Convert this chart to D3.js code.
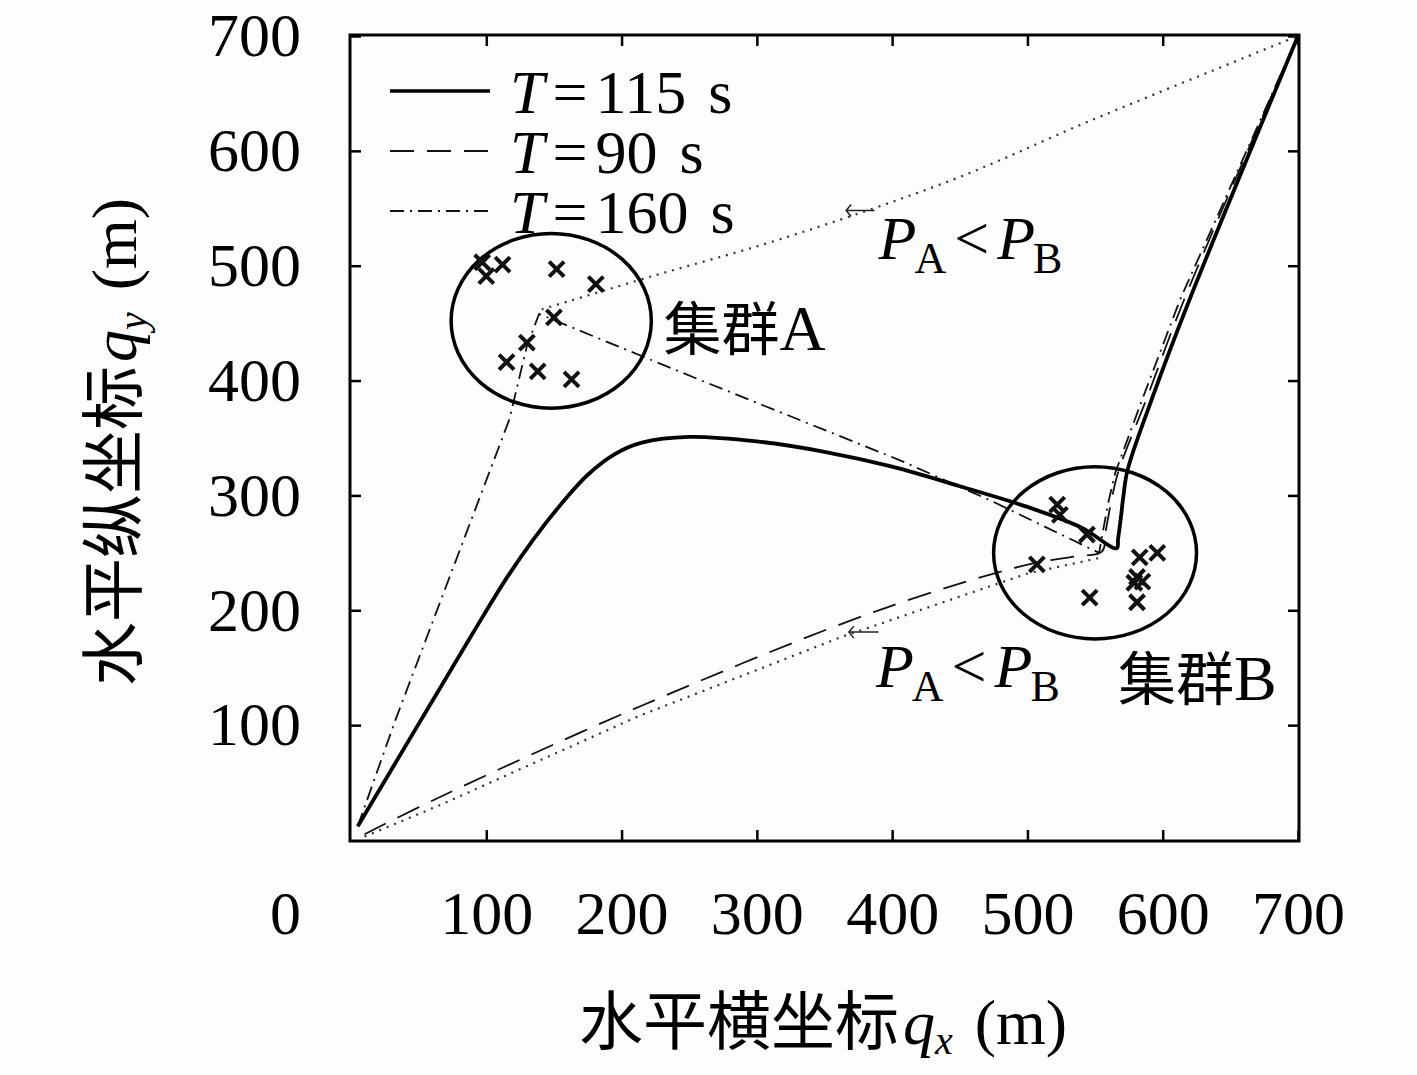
<!DOCTYPE html>
<html>
<head>
<meta charset="utf-8">
<script src="https://cdn.jsdelivr.net/npm/d3@7"></script>
<style>
body { margin: 0; background: #fff; }
</style>
</head>
<body>
<div id="chart"></div>
<script>
var xTicks = [100, 200, 300, 400, 500, 600, 700],
	yTicks = [100, 200, 300, 400, 500, 600, 700];

var legendValues = ["115", "90", "160"];

// T=115 s (solid)
var t115X = [5, 52, 90, 115, 135, 155, 175, 195, 215, 250, 300, 350, 400, 450, 500, 540, 566, 567, 569, 571, 574, 592, 620, 700];
var t115Y = [12, 105, 180, 228, 262, 292, 318, 336, 346, 351, 347, 338, 325, 308, 290, 272, 254, 262, 280, 300, 322, 384, 471, 700];

// T=90 s (dashed)
var t90X = [10, 65, 213, 390, 501, 536, 555, 558, 562, 567, 588, 616, 700];
var t90Y = [5, 37, 116, 200, 240, 247, 251, 270, 295, 320, 384, 471, 700];

// T=160 s (dash-dot)
var t160X = [5, 33, 117, 130, 139, 257, 405, 472, 553, 556, 560, 565, 585, 613, 700];
var t160Y = [12, 105, 366, 430, 458, 401, 331, 296, 250, 270, 295, 320, 384, 471, 700];

// dotted routes, P_A < P_B
var lowX = [10, 65, 213, 363, 500, 555];
var lowY = [3, 30, 108, 177, 232, 246];
var highX = [141, 223, 317, 445, 546, 700];
var highY = [462, 491, 523, 575, 626, 700];

// users of cluster A and B
var crossAX = [97, 112, 100, 152, 181, 150, 130, 115, 138, 163];
var crossAY = [503, 501, 491, 497, 484, 455, 433, 416, 408, 401];
var crossBX = [522, 524, 544, 507, 546, 596, 583, 581, 585, 579, 581];
var crossBY = [292, 283, 266, 240, 211, 250, 246, 229, 225, 224, 207];

// cluster circles
var clusterNames = ["A", "B"],
	clusterCx = [148, 550],
	clusterCy = [452, 250],
	clusterRx = [74, 75],
	clusterRy = [76, 75];

var W = 1417, H = 1075,
	serif = "'Liberation Serif', 'Times New Roman', serif",
	cjk = "'Noto Sans CJK SC', sans-serif",
	fs = 62;

var x = d3.scaleLinear().domain([0, 700]).range([351, 1298]),
	y = d3.scaleLinear().domain([0, 700]).range([840, 36]);

function zip(xs, ys) {
	return xs.map(function(d, i) { return [d, ys[i]]; });
}

var svg = d3.select("#chart").append("svg")
	.attr("width", W)
	.attr("height", H)
	.style("background", "#fdfdfd");

// axes
svg.append("g").attr("transform", "translate(0," + y(0) + ")")
	.call(d3.axisBottom(x).tickValues(xTicks).tickSizeInner(-10).tickSizeOuter(0).tickPadding(50));
svg.append("g").attr("transform", "translate(" + x(0) + ",0)")
	.call(d3.axisLeft(y).tickValues(yTicks).tickSizeInner(-10).tickSizeOuter(0).tickPadding(50));
svg.append("g").attr("transform", "translate(0," + y(700) + ")")
	.call(d3.axisTop(x).tickValues(xTicks).tickSizeInner(-10).tickSizeOuter(0).tickFormat(""));
svg.append("g").attr("transform", "translate(" + x(700) + ",0)")
	.call(d3.axisRight(y).tickValues(yTicks).tickSizeInner(-10).tickSizeOuter(0).tickFormat(""));

svg.selectAll(".domain").remove();
svg.selectAll(".tick line").attr("stroke", "#000").attr("stroke-width", 2.5);
svg.selectAll(".tick text")
	.attr("font-family", serif)
	.attr("font-size", fs)
	.attr("fill", "#000");

// origin label
svg.append("text")
	.attr("x", x(0) - 50)
	.attr("y", y(0) + 50)
	.attr("dy", "0.71em")
	.attr("text-anchor", "end")
	.attr("font-family", serif)
	.attr("font-size", fs)
	.text("0");

svg.append("rect")
	.attr("x", x(0) - 1)
	.attr("y", y(700) - 1)
	.attr("width", x(700) - x(0) + 2)
	.attr("height", y(0) - y(700) + 2)
	.attr("fill", "none")
	.attr("stroke", "#000")
	.attr("stroke-width", 3);

// axis titles
var xt = svg.append("text")
	.attr("x", 823)
	.attr("y", 1044)
	.attr("text-anchor", "middle")
	.attr("font-size", 64);
xt.append("tspan").attr("font-family", cjk).text("水平横坐标");
xt.append("tspan").attr("font-family", serif).attr("font-style", "italic").attr("dx", 4).text("q");
xt.append("tspan").attr("font-family", serif).attr("font-style", "italic").attr("font-size", 40).attr("dy", 10).text("x");
xt.append("tspan").attr("font-family", serif).attr("dy", -10).attr("dx", 22).text("(m)");

var yt = svg.append("text")
	.attr("transform", "translate(136,442) rotate(-90)")
	.attr("text-anchor", "middle")
	.attr("font-size", 64);
yt.append("tspan").attr("font-family", cjk).text("水平纵坐标");
yt.append("tspan").attr("font-family", serif).attr("font-style", "italic").attr("dx", 4).text("q");
yt.append("tspan").attr("font-family", serif).attr("font-style", "italic").attr("font-size", 40).attr("dy", 10).text("y");
yt.append("tspan").attr("font-family", serif).attr("dy", -10).attr("dx", 22).text("(m)");

// trajectories
var line = d3.line().x(function(d) { return x(d[0]); }).y(function(d) { return y(d[1]); });
var smooth = d3.line().curve(d3.curveCatmullRom.alpha(0.5))
	.x(function(d) { return x(d[0]); }).y(function(d) { return y(d[1]); });

var styles = [
	{ w: 3.8, dash: null, c: "#000" },
	{ w: 1.8, dash: "24,13", c: "#111" },
	{ w: 1.8, dash: "14,6,2,6", c: "#111" }
];

function path(pts, gen, st) {
	svg.append("path")
		.attr("d", gen(pts))
		.attr("fill", "none")
		.attr("stroke", st.c)
		.attr("stroke-width", st.w)
		.attr("stroke-dasharray", st.dash)
		.attr("stroke-linejoin", "round");
}

var dotted = { w: 2.2, dash: "2,6", c: "#333" };
path(zip(lowX, lowY), line, dotted);
path(zip(highX, highY), smooth, dotted);
path(zip(t160X, t160Y), line, styles[2]);
path(zip(t90X, t90Y), smooth, styles[1]);
path(zip(t115X, t115Y), smooth, styles[0]);

// clusters
svg.selectAll(".cluster")
	.data(clusterNames)
	.enter().append("ellipse")
	.attr("class", "cluster")
	.attr("cx", function(d, i) { return x(clusterCx[i]); })
	.attr("cy", function(d, i) { return y(clusterCy[i]); })
	.attr("rx", function(d, i) { return x(clusterRx[i]) - x(0); })
	.attr("ry", function(d, i) { return y(0) - y(clusterRy[i]); })
	.attr("fill", "none")
	.attr("stroke", "#000")
	.attr("stroke-width", 3.5);

var crosses = zip(crossAX, crossAY).concat(zip(crossBX, crossBY));
var s = 7.5;
svg.selectAll(".cross")
	.data(crosses)
	.enter().append("path")
	.attr("class", "cross")
	.attr("d", function(d) {
		var px = x(d[0]), py = y(d[1]);
		return "M" + (px - s) + "," + (py - s) + "L" + (px + s) + "," + (py + s) +
			"M" + (px + s) + "," + (py - s) + "L" + (px - s) + "," + (py + s);
	})
	.attr("stroke", "#111")
	.attr("stroke-width", 4);

// cluster labels
[[231, 427, "A"], [567, 122, "B"]].forEach(function(l) {
	var t = svg.append("text").attr("x", x(l[0])).attr("y", y(l[1])).attr("font-size", 58);
	t.append("tspan").attr("font-family", cjk).text("集群");
	t.append("tspan").attr("font-family", serif).attr("font-size", 64).text(l[2]);
});

// P_A < P_B annotations with arrows
[[366, 387, 548, 390, 506], [368, 390, 181, 388, 133]].forEach(function(a) {
	var x1 = x(a[0]), x2 = x(a[1]), ay = y(a[2]);
	svg.append("path")
		.attr("d", "M" + x2 + "," + ay + "L" + x1 + "," + ay +
			"M" + (x1 + 5) + "," + (ay - 6) + "L" + x1 + "," + ay + "L" + (x1 + 5) + "," + (ay + 6))
		.attr("fill", "none")
		.attr("stroke", "#222")
		.attr("stroke-width", 1.5);
	var t = svg.append("text").attr("x", x(a[3])).attr("y", y(a[4]))
		.attr("font-family", serif).attr("font-size", fs);
	t.append("tspan").attr("font-style", "italic").text("P");
	t.append("tspan").attr("font-size", 44).attr("dy", 14).attr("dx", -2).text("A");
	t.append("tspan").attr("dy", -14).attr("dx", 8).text("<");
	t.append("tspan").attr("font-style", "italic").attr("dx", 8).text("P");
	t.append("tspan").attr("font-size", 44).attr("dy", 14).attr("dx", -2).text("B");
});

// legend
var legend = svg.selectAll(".legend")
	.data(legendValues)
	.enter().append("g")
	.attr("class", "legend")
	.attr("transform", function(d, i) { return "translate(390," + (91 + i * 60) + ")"; });

legend.append("line")
	.attr("x1", 0).attr("x2", 100)
	.attr("stroke", function(d, i) { return styles[i].c; })
	.attr("stroke-width", function(d, i) { return i == 0 ? 3.5 : 1.8; })
	.attr("stroke-dasharray", function(d, i) { return styles[i].dash; });

var lt = legend.append("text")
	.attr("x", 120)
	.attr("dy", "0.36em")
	.attr("font-family", serif)
	.attr("font-size", 62);
lt.append("tspan").attr("font-style", "italic").text("T");
lt.append("tspan").attr("dx", 8).text("=");
lt.append("tspan").attr("dx", 8).text(function(d) { return d; });
lt.append("tspan").attr("dx", 22).text("s");
</script>
</body>
</html>
